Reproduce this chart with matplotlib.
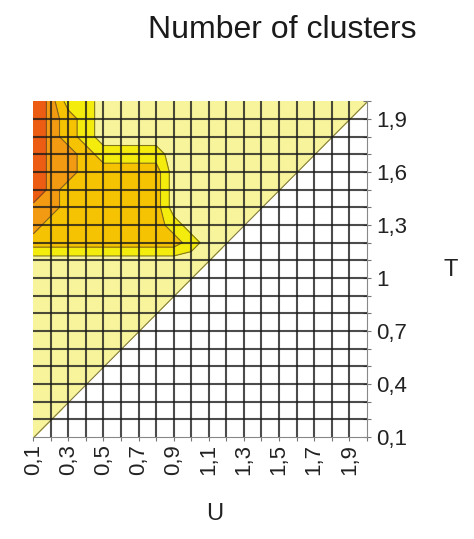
import numpy as np
import matplotlib
matplotlib.use('Agg')
from matplotlib import pyplot as plt

plt.rcParams['font.family'] = ['Liberation Sans', 'DejaVu Sans']

# grid axes
u_values = [0.1, 0.2, 0.3, 0.4, 0.5, 0.6, 0.7, 0.8, 0.9, 1.0,
            1.1, 1.2, 1.3, 1.4, 1.5, 1.6, 1.7, 1.8, 1.9, 2.0]
t_values = [2.0, 1.9, 1.8, 1.7, 1.6, 1.5, 1.4, 1.3, 1.2, 1.1,
            1.0, 0.9, 0.8, 0.7, 0.6, 0.5, 0.4, 0.3, 0.2, 0.1]

# number of clusters, rows follow t_values (top to bottom), columns follow u_values
# 0 = not computed (U > T)
clusters = [
    [6, 4, 2, 2, 1, 1, 1, 1, 1, 1, 1, 1, 1, 1, 1, 1, 1, 1, 1, 1],
    [6, 4, 3, 2, 1, 1, 1, 1, 1, 1, 1, 1, 1, 1, 1, 1, 1, 1, 1, 0],
    [6, 4, 3, 2, 1, 1, 1, 1, 1, 1, 1, 1, 1, 1, 1, 1, 1, 1, 0, 0],
    [6, 4, 4, 3, 2, 2, 2, 2, 1, 1, 1, 1, 1, 1, 1, 1, 1, 0, 0, 0],
    [6, 4, 4, 3, 3, 3, 3, 3, 1, 1, 1, 1, 1, 1, 1, 1, 0, 0, 0, 0],
    [6, 4, 3, 3, 3, 3, 3, 3, 1, 1, 1, 1, 1, 1, 1, 0, 0, 0, 0, 0],
    [4, 4, 3, 3, 3, 3, 3, 3, 1, 1, 1, 1, 1, 1, 0, 0, 0, 0, 0, 0],
    [4, 3, 3, 3, 3, 3, 3, 3, 2, 1, 1, 1, 1, 0, 0, 0, 0, 0, 0, 0],
    [3, 3, 3, 3, 3, 3, 3, 3, 3, 2, 1, 1, 0, 0, 0, 0, 0, 0, 0, 0],
    [1, 1, 1, 1, 1, 1, 1, 1, 1, 1, 1, 0, 0, 0, 0, 0, 0, 0, 0, 0],
    [1, 1, 1, 1, 1, 1, 1, 1, 1, 1, 0, 0, 0, 0, 0, 0, 0, 0, 0, 0],
    [1, 1, 1, 1, 1, 1, 1, 1, 1, 0, 0, 0, 0, 0, 0, 0, 0, 0, 0, 0],
    [1, 1, 1, 1, 1, 1, 1, 1, 0, 0, 0, 0, 0, 0, 0, 0, 0, 0, 0, 0],
    [1, 1, 1, 1, 1, 1, 1, 0, 0, 0, 0, 0, 0, 0, 0, 0, 0, 0, 0, 0],
    [1, 1, 1, 1, 1, 1, 0, 0, 0, 0, 0, 0, 0, 0, 0, 0, 0, 0, 0, 0],
    [1, 1, 1, 1, 1, 0, 0, 0, 0, 0, 0, 0, 0, 0, 0, 0, 0, 0, 0, 0],
    [1, 1, 1, 1, 0, 0, 0, 0, 0, 0, 0, 0, 0, 0, 0, 0, 0, 0, 0, 0],
    [1, 1, 1, 0, 0, 0, 0, 0, 0, 0, 0, 0, 0, 0, 0, 0, 0, 0, 0, 0],
    [1, 1, 0, 0, 0, 0, 0, 0, 0, 0, 0, 0, 0, 0, 0, 0, 0, 0, 0, 0],
    [1, 0, 0, 0, 0, 0, 0, 0, 0, 0, 0, 0, 0, 0, 0, 0, 0, 0, 0, 0],
]

x_ticks = [0.1, 0.3, 0.5, 0.7, 0.9, 1.1, 1.3, 1.5, 1.7, 1.9]
y_ticks = [0.1, 0.4, 0.7, 1.0, 1.3, 1.6, 1.9]

levels = [-1, 0.95, 1.5, 2.5, 3.5, 4.5, 8]
colors = ['#ffffff', '#f7f49c', '#f4ec0c', '#f6c302', '#f29a12', '#ec5c12']


def fmt(v):
    return ('%g' % v).replace('.', ',')


def main():
    fig = plt.figure(figsize=(4.74, 5.39), dpi=100)
    ax = fig.add_axes([0.070, 0.189, 0.704, 0.623])

    U, T = np.meshgrid(u_values, t_values)
    Z = np.array(clusters, dtype=float)

    ax.contourf(U, T, Z, levels=levels, colors=colors, zorder=1)
    ax.contour(U, T, Z, levels=levels[1:-1], colors='#5a5020',
               linewidths=0.8, alpha=0.75, zorder=2)

    # cell grid
    for v in u_values[1:-1]:
        ax.axvline(v, color='#1a1a1a', lw=1.5, alpha=0.78, zorder=3)
    for v in t_values[1:-1]:
        ax.axhline(v, color='#1a1a1a', lw=1.5, alpha=0.78, zorder=3)

    ax.set_xlim(0.1, 2.0)
    ax.set_ylim(0.1, 2.0)

    ax.set_xticks(x_ticks)
    ax.set_xticklabels([fmt(v) for v in x_ticks], rotation=90, fontsize=16,
                       color='#222222')
    ax.set_xticks(u_values, minor=True)
    ax.set_yticks(y_ticks)
    ax.set_yticklabels([fmt(v) for v in y_ticks], fontsize=16, color='#222222')
    ax.set_yticks(t_values, minor=True)

    ax.yaxis.tick_right()
    ax.yaxis.set_label_position('right')
    ax.tick_params(axis='y', which='both', direction='inout', length=6,
                   width=0.8, color='#777777', pad=4)
    ax.tick_params(axis='x', which='both', direction='out', length=3,
                   width=0.8, color='#777777', pad=2)

    for side in ['top', 'left']:
        ax.spines[side].set_visible(False)
    for side in ['right', 'bottom']:
        ax.spines[side].set_color('#888888')
        ax.spines[side].set_linewidth(0.8)

    ax.set_xlabel('U', fontsize=17, color='#222222')
    ax.xaxis.set_label_coords(0.545, -0.195)
    ax.set_ylabel('T', fontsize=17, rotation=0, va='center', color='#222222')
    ax.yaxis.set_label_coords(1.25, 0.497)

    fig.text(0.595, 0.944, 'Number of clusters', fontsize=23,
             ha='center', va='center', color='#1a1a1a')

    fig.savefig('out.png', dpi=100)


if __name__ == '__main__':
    main()
